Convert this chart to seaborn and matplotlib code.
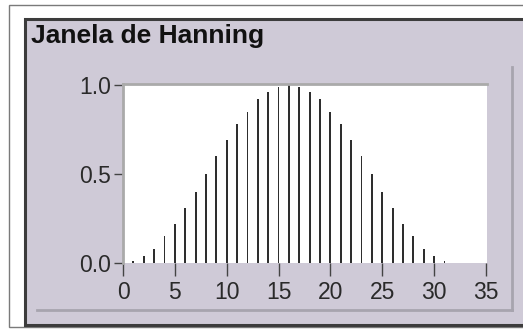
import matplotlib
matplotlib.use("Agg")
import matplotlib.pyplot as plt
from matplotlib.patches import Rectangle
from matplotlib.lines import Line2D
import seaborn as sns
import pandas as pd

# Hanning window samples, n = 0..31
sample_index = list(range(32))
window_values = [0.00, 0.01, 0.04, 0.08, 0.15, 0.22, 0.31, 0.40,
                 0.50, 0.60, 0.69, 0.78, 0.85, 0.92, 0.96, 0.99,
                 1.00, 0.99, 0.96, 0.92, 0.85, 0.78, 0.69, 0.60,
                 0.50, 0.40, 0.31, 0.22, 0.15, 0.08, 0.04, 0.01]
x_ticks = [0, 5, 10, 15, 20, 25, 30, 35]
y_ticks = [0.0, 0.5, 1.0]
y_tick_labels = ["0.0", "0.5", "1.0"]
title_text = "Janela de Hanning"

W, H = 523, 329
plt.rcParams["font.family"] = ["Liberation Sans", "DejaVu Sans"]

fig = plt.figure(figsize=(W / 100, H / 100), dpi=100)
fig.patch.set_facecolor("white")


def fx(x):
    return x / W


def fy(y):
    return 1 - y / H


panel_bg = "#cfcad7"

# outer thin frame
fig.patches.append(Rectangle((fx(9), fy(327)), fx(W + 10) - fx(9), fy(5) - fy(327),
                             transform=fig.transFigure, facecolor="white",
                             edgecolor="#7a7a7a", lw=1.0, zorder=-10))
# control panel with dark sunken border
fig.patches.append(Rectangle((fx(25), fy(325)), fx(W + 10) - fx(25), fy(18.5) - fy(325),
                             transform=fig.transFigure, facecolor=panel_bg,
                             edgecolor="#3c3c3c", lw=2.2, zorder=-9))
# inner raised frame of the graph area
fig.lines.append(Line2D([fx(512), fx(512)], [fy(67), fy(310)], transform=fig.transFigure,
                        color="#a7a4ae", lw=2.0, zorder=-8))
fig.lines.append(Line2D([fx(37), fx(512)], [fy(310), fy(310)], transform=fig.transFigure,
                        color="#a7a4ae", lw=2.0, zorder=-8))

fig.text(fx(31), fy(43), title_text, fontsize=19, fontweight="bold",
         color="#111111", ha="left", va="baseline")

ax = fig.add_axes([fx(123), fy(263), fx(487) - fx(123), fy(84) - fy(263)])
ax.set_zorder(5)
ax.set_facecolor("white")

df = pd.DataFrame({"n": sample_index, "w": window_values})
sns.barplot(data=df, x="n", y="w", native_scale=True, width=0.18, color="#2e2e2e",
            saturation=1, linewidth=0, errorbar=None, ax=ax)

ax.set_xlim(0, 35.1)
ax.set_ylim(0, 1.005)
ax.set_xlabel("")
ax.set_ylabel("")
ax.set_xticks(x_ticks)
ax.set_xticklabels([str(t) for t in x_ticks])
ax.set_yticks(y_ticks)
ax.set_yticklabels(y_tick_labels)

for side in ("bottom", "right"):
    ax.spines[side].set_visible(False)
for side in ("top", "left"):
    ax.spines[side].set_color("#aaaaaa")
    ax.spines[side].set_linewidth(2.0)

ax.tick_params(axis="x", direction="out", length=9, width=1.0, color="#444444",
               pad=4, labelsize=16.5, labelcolor="#2a2a2a")
ax.tick_params(axis="y", direction="out", length=6.5, width=1.0, color="#444444",
               pad=2, labelsize=16.5, labelcolor="#2a2a2a")

fig.savefig("out.png", dpi=100, facecolor=fig.get_facecolor())
